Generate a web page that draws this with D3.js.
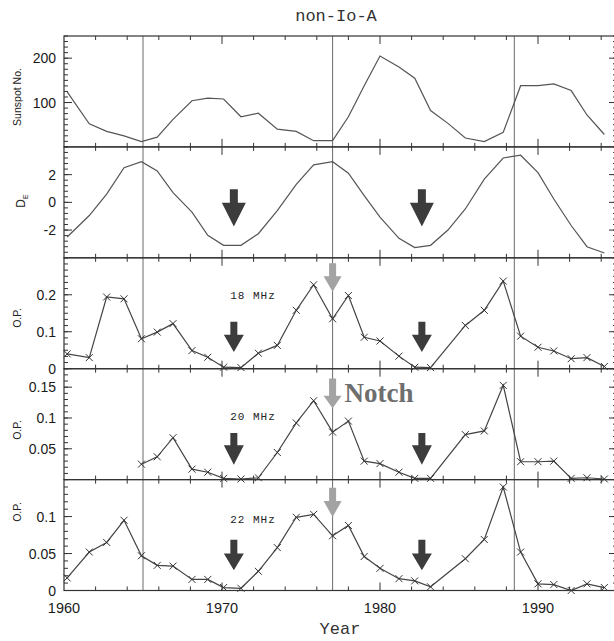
<!DOCTYPE html>
<html>
<head>
<meta charset="utf-8">
<script src="https://d3js.org/d3.v7.min.js"></script>
<style>
  body { margin: 0; background: #fff; }
  svg { display: block; }
  .frame { fill: none; stroke: #333; stroke-width: 1.2; }
  .tick { stroke: #333; stroke-width: 1; }
  .lab { font-family: "Liberation Sans", Arial, sans-serif; font-size: 14px; fill: #1a1a1a; }
  .ytitle { font-family: "Liberation Sans", Arial, sans-serif; font-size: 10.5px; fill: #222; }
</style>
</head>
<body>
<svg width="614" height="641"></svg>
<script>
// epochs of the data points (decimal year)
var years = [1960.2, 1961.6, 1962.7, 1963.8, 1964.9, 1965.9, 1966.9, 1968.1, 1969.1, 1970.1,
             1971.2, 1972.3, 1973.5, 1974.7, 1975.8, 1977.0, 1978.0, 1979.0, 1980.0, 1981.2,
             1982.2, 1983.2, 1984.3, 1985.4, 1986.6, 1987.8, 1988.9, 1990.0, 1991.0, 1992.1,
             1993.1, 1994.2];

var sunspot = [124, 52, 35, 25, 12, 22, 62, 104, 110, 108,
               68, 76, 40, 35, 14, 14, 68, 138, 205, 180,
               155, 82, 53, 20, 12, 33, 138, 138, 142, 127,
               72, 28];

var de = [-2.5, -0.95, 0.6, 2.5, 2.93, 2.26, 0.7, -0.7, -2.38, -3.1,
          -3.1, -2.26, -0.6, 1.3, 2.7, 2.93, 2.1, 0.48, -1.07, -2.6,
          -3.26, -3.1, -2.0, -0.48, 1.67, 3.2, 3.4, 2.14, 0.24, -1.67,
          -3.2, -3.65];

var op18 = [0.040, 0.030, 0.194, 0.189, 0.081, 0.099, 0.122, 0.049, 0.031, 0.004,
            0.003, 0.042, 0.063, 0.158, 0.227, 0.135, 0.198, 0.085, 0.075, 0.034,
            0.004, 0.003, null, 0.117, 0.158, 0.237, 0.088, 0.058, 0.048, 0.027,
            0.030, 0.006];

var op20 = [null, null, null, null, 0.025, 0.037, 0.068, 0.017, 0.012, 0.002,
            0.001, 0.003, 0.044, 0.092, 0.128, 0.077, 0.095, 0.030, 0.026, 0.012,
            0.002, 0.002, null, 0.073, 0.079, 0.153, 0.029, 0.029, 0.030, 0.002,
            0.003, 0.001];

var op22 = [0.017, 0.052, 0.065, 0.095, 0.047, 0.034, 0.033, 0.015, 0.015, 0.004,
            0.003, 0.026, 0.058, 0.099, 0.103, 0.074, 0.088, 0.046, 0.030, 0.016,
            0.013, 0.005, null, 0.043, 0.069, 0.140, 0.052, 0.009, 0.008, 0.000,
            0.009, 0.004];

var xTickLabels = [1960, 1970, 1980, 1990];
var deMaxEpochs = [1965.0, 1977.0, 1988.5];
var minArrowYears = [1970.75, 1982.65];
var notchYear = 1977.0;

var svg = d3.select("svg");
var left = 64, right = 617, plotTop = 36, ph = 110.9;

var x = d3.scaleLinear().domain([1960, 1995]).range([left, right]);

var panels = [
  { vals: sunspot, dom: [0, 250], major: [100, 200], sub: 8, step: 100, labels: ["100", "200"],
    title: "Sunspot No.", ty: 97, marks: false, col: "#555" },
  { vals: de, dom: [-4, 4], major: [-2, 0, 2], sub: 5, step: 2, labels: ["-2", "0", "2"],
    title: "DE", ty: 201, marks: false, col: "#555" },
  { vals: op18, dom: [0, 0.3], major: [0, 0.1, 0.2], sub: 6, step: 0.1, labels: ["0", "0.1", "0.2"],
    title: "O.P.", ty: 318, marks: true, col: "#444", freq: "18 MHz", fy: 0.2,
    dark: [0.127, 0.092, 0.045], light: [0.285, 0.25, 0.208] },
  { vals: op20, dom: [0, 0.18], major: [0.05, 0.1, 0.15], sub: 5, step: 0.05, labels: ["0.05", "0.1", "0.15"],
    title: "O.P.", ty: 430, marks: true, col: "#444", freq: "20 MHz", fy: 0.103,
    dark: [0.0757, 0.0556, 0.024], light: [0.164, 0.136, 0.116], notch: true },
  { vals: op22, dom: [0, 0.15], major: [0, 0.05, 0.1], sub: 5, step: 0.05, labels: ["0", "0.05", "0.1"],
    title: "O.P.", ty: 512, marks: true, col: "#444", freq: "22 MHz", fy: 0.097,
    dark: [0.0688, 0.05, 0.0274], light: [0.139, 0.121, 0.0995] }
];

function arrow(g, xc, yTop, yBase, yTip, sw, hw, fill) {
  var pts = [[xc - sw, yTop], [xc + sw, yTop], [xc + sw, yBase], [xc + hw, yBase],
             [xc, yTip], [xc - hw, yBase], [xc - sw, yBase]];
  g.append("polygon").attr("points", pts.map(function(p) { return p.join(","); }).join(" "))
    .attr("fill", fill);
}

// epoch lines of D_E maxima through all panels
svg.selectAll(".epoch").data(deMaxEpochs).enter().append("line")
  .attr("x1", function(d) { return x(d); }).attr("x2", function(d) { return x(d); })
  .attr("y1", plotTop).attr("y2", plotTop + 5 * ph)
  .attr("stroke", "#6a6a6a").attr("stroke-width", 1);

panels.forEach(function(p, i) {
  var y0 = plotTop + i * ph, y1 = y0 + ph;
  var y = d3.scaleLinear().domain(p.dom).range([y1, y0]);
  var g = svg.append("g");

  // x ticks top and bottom, every 2 years, long every 10
  d3.range(1962, 1995, 2).forEach(function(t) {
    var len = (t % 10 === 0) ? 8 : 4;
    g.append("line").attr("class", "tick").attr("x1", x(t)).attr("x2", x(t))
      .attr("y1", y1).attr("y2", y1 - len);
    g.append("line").attr("class", "tick").attr("x1", x(t)).attr("x2", x(t))
      .attr("y1", y0).attr("y2", y0 + len);
  });

  // y ticks both sides
  var minor = d3.range(p.dom[0], p.dom[1] + 1e-9, p.step / p.sub);
  minor.forEach(function(v) {
    [[left, 1], [right, -1]].forEach(function(s) {
      g.append("line").attr("class", "tick").attr("x1", s[0]).attr("x2", s[0] + s[1] * 4)
        .attr("y1", y(v)).attr("y2", y(v));
    });
  });
  p.major.forEach(function(v, k) {
    [[left, 1], [right, -1]].forEach(function(s) {
      g.append("line").attr("class", "tick").attr("x1", s[0]).attr("x2", s[0] + s[1] * 8)
        .attr("y1", y(v)).attr("y2", y(v));
    });
    g.append("text").attr("class", "lab").attr("x", left - 8).attr("y", y(v) + 5)
      .attr("text-anchor", "end").text(p.labels[k]);
  });

  g.append("rect").attr("class", "frame").attr("x", left).attr("y", y0)
    .attr("width", right - left).attr("height", ph);

  // axis title
  var tt = g.append("text").attr("class", "ytitle")
    .attr("transform", "translate(" + (i === 1 ? 25 : 21) + "," + p.ty + ") rotate(-90)")
    .attr("text-anchor", "middle");
  if (i === 1) {
    tt.style("font-size", "12px");
    tt.append("tspan").text("D");
    tt.append("tspan").attr("dy", 3).style("font-size", "7px").text("E");
  } else {
    tt.text(p.title);
  }

  var pts = years.map(function(yr, k) { return [yr, p.vals[k]]; })
    .filter(function(d) { return d[1] !== null; });

  var line = d3.line().x(function(d) { return x(d[0]); }).y(function(d) { return y(d[1]); });
  g.append("path").attr("d", line(pts)).attr("fill", "none")
    .attr("stroke", p.col).attr("stroke-width", 1.2);

  if (p.marks) {
    var r = 3.5;
    pts.forEach(function(d) {
      var cx = x(d[0]), cy = y(d[1]);
      g.append("path").attr("d", "M" + (cx - r) + "," + (cy - r) + "L" + (cx + r) + "," + (cy + r) +
          "M" + (cx - r) + "," + (cy + r) + "L" + (cx + r) + "," + (cy - r))
        .attr("stroke", "#333").attr("stroke-width", 1);
    });
    g.append("text").attr("x", 253).attr("y", y(p.fy) + 4).attr("text-anchor", "middle")
      .style("font-family", "'Liberation Mono', monospace").style("font-size", "11px")
      .style("letter-spacing", "1px").attr("fill", "#222").text(p.freq);
  }

  // arrows
  if (i === 1) {
    minArrowYears.forEach(function(yr) {
      arrow(g, x(yr), y(0.95), y(-0.02), y(-1.75), 4, 12, "#3c3c3c");
    });
  }
  if (p.dark) {
    minArrowYears.forEach(function(yr) {
      arrow(g, x(yr), y(p.dark[0]), y(p.dark[1]), y(p.dark[2]), 3.5, 10, "#3c3c3c");
    });
    arrow(g, x(notchYear), y(p.light[0]), y(p.light[1]), y(p.light[2]), 3.5, 9, "#a3a3a3");
  }
  if (p.notch) {
    g.append("text").attr("x", x(notchYear) + 12).attr("y", y(0.136) + 6)
      .style("font-family", "'Liberation Serif', serif").style("font-weight", "bold")
      .style("font-size", "27px").attr("fill", "#6e6e6e").text("Notch");
  }
});

// x tick labels
svg.selectAll(".xl").data(xTickLabels).enter().append("text").attr("class", "lab")
  .style("font-size", "14.5px")
  .attr("x", function(d) { return x(d); }).attr("y", 613).attr("text-anchor", "middle")
  .text(function(d) { return d; });

svg.append("text").attr("x", 336).attr("y", 21).attr("text-anchor", "middle")
  .style("font-family", "'Liberation Mono', monospace").style("font-size", "17px")
  .attr("fill", "#333").text("non-Io-A");

svg.append("text").attr("x", 340).attr("y", 634).attr("text-anchor", "middle")
  .style("font-family", "'Liberation Mono', monospace").style("font-size", "17px")
  .attr("fill", "#333").text("Year");
</script>
</body>
</html>
